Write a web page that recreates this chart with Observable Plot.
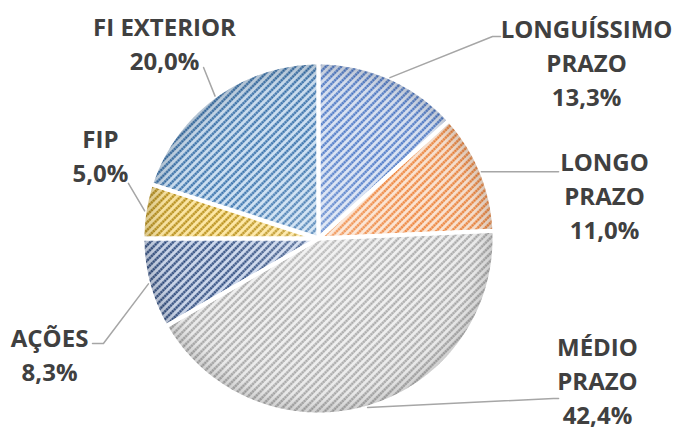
<!DOCTYPE html>
<html>
<head>
<meta charset="utf-8">
<script src="https://cdn.jsdelivr.net/npm/d3@7"></script>
<script src="https://cdn.jsdelivr.net/npm/@observablehq/plot@0.6"></script>
<style>
  html, body { margin: 0; padding: 0; background: #ffffff; }
  #chart { width: 676px; height: 435px; }
</style>
</head>
<body>
<svg id="defs" width="0" height="0" style="position:absolute"></svg>
<div id="chart"></div>
<script>
// ---- data ----
const categories = ["LONGUÍSSIMO PRAZO", "LONGO PRAZO", "MÉDIO PRAZO", "AÇÕES", "FIP", "FI EXTERIOR"];
const labelNames = ["LONGUÍSSIMO\nPRAZO", "LONGO\nPRAZO", "MÉDIO\nPRAZO", "AÇÕES", "FIP", "FI EXTERIOR"];
const shares = [13.3, 11.0, 42.4, 8.3, 5.0, 20.0];

// ---- styles ----
const patternBg = ["#dae3f3", "#fbe3d1", "#efefef", "#cdd8ec", "#fde7a4", "#cde0f2"];
const patternLine = ["#4472c4", "#ed7d31", "#a5a5a5", "#264478", "#b48a12", "#2e6aa6"];

// ---- layout (in pie-radius units, relative to centre) ----
const labelPos = [[1.523, 1.006], [1.625, 0.25], [1.585, -0.80], [-1.528, -0.653], [-1.239, 0.477], [-0.875, 1.114]];
const leaderPts = [
  [[0.989, 1.148], [1.034, 1.148]],
  [[1.364, 0.379]],
  [[1.335, -0.909], [1.364, -0.909]],
  [[-1.222, -0.597], [-1.284, -0.597]],
  [[-1.08, 0.313]],
  [[-0.653, 0.972]]
];

// pattern defs
const P = 5.4;
const defs = d3.select("#defs").append("defs");
categories.forEach((c, i) => {
  const p = defs.append("pattern")
    .attr("id", "pat" + i)
    .attr("patternUnits", "userSpaceOnUse")
    .attr("width", P).attr("height", P)
    .attr("patternTransform", "rotate(45)");
  p.append("rect").attr("width", P).attr("height", P).attr("fill", patternBg[i]);
  p.append("line").attr("x1", 1.4).attr("x2", 1.4).attr("y1", -1).attr("y2", P + 1)
    .attr("stroke", patternLine[i]).attr("stroke-opacity", 0.55).attr("stroke-width", 2.2);
  p.append("line").attr("x1", 1.4).attr("x2", 1.4).attr("y1", 0).attr("y2", P)
    .attr("stroke", patternLine[i]).attr("stroke-width", 2.2)
    .attr("stroke-dasharray", "1.35 1.35");
});

// slice geometry computed from shares
const total = d3.sum(shares);
let acc = 0;
const slices = categories.map((c, i) => {
  const a0 = acc / total * 2 * Math.PI;
  acc += shares[i];
  const a1 = acc / total * 2 * Math.PI;
  return {c, i, a0, a1, mid: (a0 + a1) / 2};
});
const polyPts = [];
slices.forEach(s => {
  polyPts.push({c: s.c, u: 0, v: 0});
  const n = Math.max(2, Math.ceil((s.a1 - s.a0) / (Math.PI / 360)));
  for (let k = 0; k <= n; k++) {
    const a = s.a0 + (s.a1 - s.a0) * k / n;
    polyPts.push({c: s.c, u: Math.sin(a), v: Math.cos(a)});
  }
});
const leaderData = [];
slices.forEach(s => {
  leaderData.push({c: s.c, u: Math.sin(s.mid), v: Math.cos(s.mid)});
  leaderPts[s.i].forEach(p => leaderData.push({c: s.c, u: p[0], v: p[1]}));
});
const labelData = slices.map(s => ({
  c: s.c,
  u: labelPos[s.i][0], v: labelPos[s.i][1],
  text: labelNames[s.i] + "\n" + shares[s.i].toFixed(1).replace(".", ",") + "%"
}));

const R = 176;
const plot = Plot.plot({
  width: 676, height: 435,
  margin: 0,
  style: {background: "#ffffff", fontFamily: "'Open Sans', sans-serif"},
  x: {domain: [-318 / R, 358 / R], axis: null},
  y: {domain: [-197 / R, 238 / R], axis: null},
  color: {type: "ordinal", domain: categories, range: categories.map((c, i) => `url(#pat${i})`)},
  marks: [
    Plot.line(polyPts, {x: "u", y: "v", z: "c", fill: "c", stroke: "none", curve: "linear-closed"}),
    Plot.line(polyPts, {x: "u", y: "v", z: "c", fill: "url(#shade)", stroke: "#ffffff", strokeWidth: 4, curve: "linear-closed"}),
    Plot.line(leaderData, {x: "u", y: "v", z: "c", stroke: "#a6a6a6", strokeWidth: 1.5}),
    Plot.text(labelData, {x: "u", y: "v", text: "text", fill: "#404040", fontSize: 24, fontWeight: "bold",
      lineHeight: 1.42, lineAnchor: "middle", textAnchor: "middle"})
  ]
});
document.getElementById("chart").appendChild(plot);

// radial shading centred on the pie (from scales)
const cx = plot.scale("x").apply(0), cy = plot.scale("y").apply(0);
const rpx = plot.scale("x").apply(1) - cx;
const g = defs.append("radialGradient").attr("id", "shade")
  .attr("gradientUnits", "userSpaceOnUse")
  .attr("cx", cx).attr("cy", cy).attr("r", rpx);
g.append("stop").attr("offset", 0).attr("stop-color", "#ffffff").attr("stop-opacity", 0.2);
g.append("stop").attr("offset", 0.55).attr("stop-color", "#ffffff").attr("stop-opacity", 0);
g.append("stop").attr("offset", 0.9).attr("stop-color", "#000000").attr("stop-opacity", 0.03);
g.append("stop").attr("offset", 1).attr("stop-color", "#000000").attr("stop-opacity", 0.15);
</script>
</body>
</html>
